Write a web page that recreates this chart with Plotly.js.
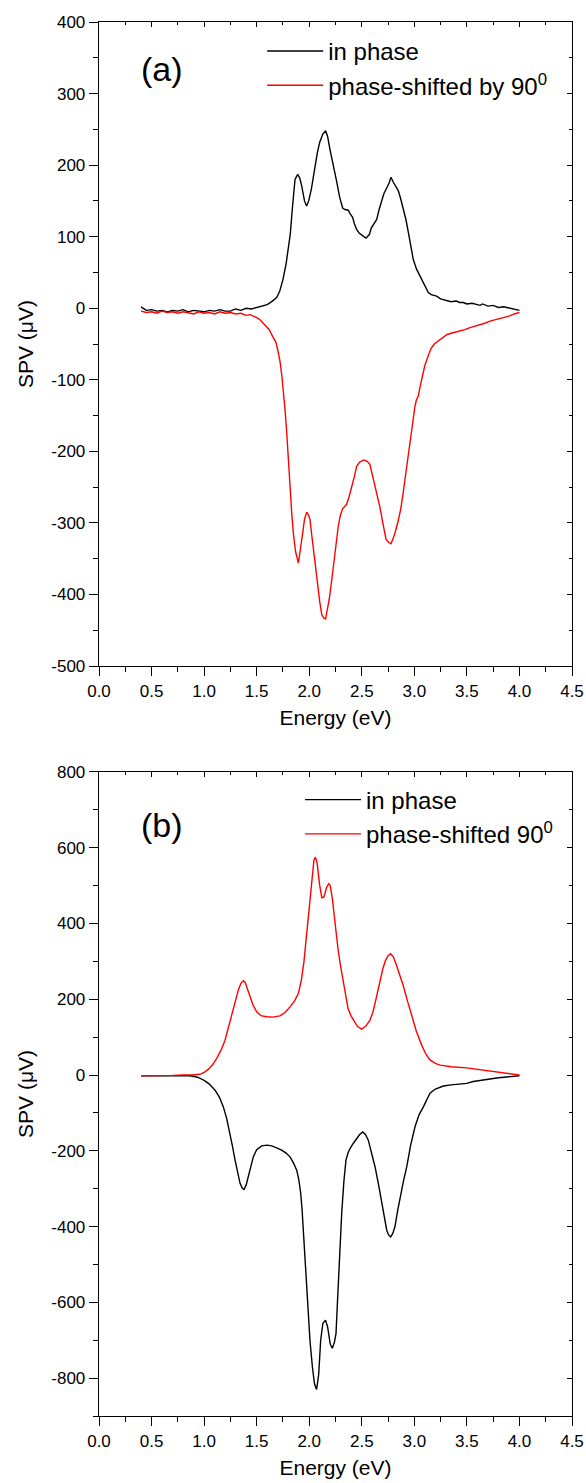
<!DOCTYPE html>
<html><head><meta charset="utf-8">
<script src="https://cdn.plot.ly/plotly-3.0.1.min.js"></script>
<style>html,body{margin:0;padding:0;background:#fff;}#chart{width:586px;height:1483px;}</style>
</head><body><div id="chart"></div>
<script>
// Panel (a)
const aInPhaseE = [0.40,0.45,0.50,0.55,0.60,0.65,0.70,0.75,0.80,0.85,0.90,0.95,1.00,1.05,1.10,1.15,1.20,1.25,1.30,1.35,1.40,1.45,1.50,1.55,1.60,1.65,1.69,1.72,1.75,1.78,1.80,1.82,1.84,1.865,1.89,1.91,1.93,1.955,1.975,1.995,2.02,2.05,2.077,2.10,2.128,2.156,2.175,2.197,2.23,2.26,2.29,2.318,2.34,2.371,2.39,2.413,2.43,2.451,2.475,2.498,2.52,2.54,2.556,2.572,2.59,2.61,2.625,2.642,2.665,2.689,2.71,2.737,2.76,2.778,2.79,2.80,2.825,2.848,2.87,2.895,2.92,2.943,2.965,2.99,3.02,3.054,3.07,3.085,3.11,3.133,3.16,3.19,3.212,3.25,3.28,3.308,3.35,3.40,3.43,3.466,3.50,3.55,3.60,3.625,3.65,3.70,3.75,3.80,3.85,3.90,3.95,4.00];
const aInPhaseV = [2,-3,-2,-4,-3,-5,-3,-4,-2,-5,-3,-4,-5,-3,-4,-2,-4,-4,-1,-3,0,-1,1,2,5,10,15,24,40,62,82,104,140,180,187,182,170,150,143,150,166,195,217,232,243,248,240,222,200,178,155,140,138,137,132,127,118,110,105,103,100,98,100,103,112,117,120,124,138,150,160,168,175,183,178,176,170,164,153,140,124,106,88,68,55,45,40,36,28,22,19,18,17,13,12,10,9,10,8,8,6,7,5,4,6,3,4,1,2,0,-2,-3];
const aShiftedE = [0.40,0.45,0.50,0.55,0.60,0.65,0.70,0.75,0.80,0.85,0.90,0.95,1.00,1.05,1.10,1.15,1.20,1.25,1.30,1.35,1.40,1.437,1.47,1.50,1.532,1.56,1.595,1.62,1.643,1.665,1.684,1.70,1.722,1.74,1.754,1.77,1.786,1.80,1.817,1.833,1.849,1.87,1.897,1.915,1.938,1.955,1.976,1.99,2.007,2.02,2.039,2.058,2.077,2.10,2.119,2.14,2.156,2.172,2.19,2.21,2.229,2.25,2.276,2.295,2.318,2.338,2.356,2.38,2.403,2.43,2.451,2.48,2.52,2.55,2.577,2.60,2.624,2.65,2.674,2.70,2.731,2.755,2.778,2.795,2.816,2.845,2.87,2.89,2.911,2.935,2.958,2.98,3.006,3.02,3.037,3.06,3.079,3.10,3.133,3.16,3.19,3.228,3.26,3.308,3.35,3.40,3.435,3.48,3.53,3.58,3.625,3.67,3.72,3.78,3.84,3.90,3.95,4.00];
const aShiftedV = [-4,-6,-5,-7,-4,-6,-5,-7,-5,-6,-8,-5,-7,-6,-8,-5,-7,-6,-8,-7,-10,-9,-11,-13,-16,-20,-25,-30,-37,-42,-48,-58,-74,-95,-114,-142,-174,-210,-249,-285,-314,-340,-356,-340,-314,-295,-285,-288,-295,-312,-337,-360,-384,-410,-428,-433,-434,-422,-407,-385,-360,-332,-305,-290,-280,-277,-274,-263,-251,-235,-221,-215,-212,-214,-218,-232,-249,-265,-279,-300,-323,-327,-329,-323,-314,-298,-281,-262,-239,-215,-193,-165,-137,-128,-123,-106,-93,-80,-66,-56,-50,-46,-42,-37,-35,-33,-32,-30,-27,-25,-23,-21,-18,-16,-13,-11,-8,-6];
// Panel (b)
const bInPhaseE = [0.40,0.50,0.60,0.70,0.80,0.866,0.93,0.993,1.05,1.104,1.145,1.183,1.215,1.246,1.27,1.294,1.318,1.342,1.362,1.38,1.40,1.42,1.445,1.468,1.50,1.548,1.60,1.643,1.69,1.738,1.78,1.817,1.85,1.881,1.90,1.919,1.932,1.944,1.96,1.976,1.99,2.007,2.03,2.05,2.07,2.09,2.109,2.13,2.155,2.175,2.20,2.22,2.24,2.255,2.265,2.277,2.29,2.309,2.33,2.35,2.37,2.388,2.42,2.452,2.48,2.509,2.535,2.562,2.595,2.626,2.66,2.69,2.715,2.737,2.755,2.775,2.795,2.816,2.84,2.864,2.895,2.928,2.965,3.007,3.045,3.086,3.12,3.149,3.20,3.276,3.35,3.42,3.498,3.56,3.64,3.72,3.80,3.88,3.95,4.00];
const bInPhaseV = [-2,-2,-1,-2,-1,-2,-5,-13,-24,-40,-58,-84,-115,-154,-188,-224,-258,-286,-298,-302,-290,-268,-240,-216,-197,-187,-185,-187,-192,-198,-206,-216,-232,-251,-275,-312,-355,-409,-470,-541,-620,-700,-770,-815,-830,-790,-700,-655,-647,-665,-710,-721,-705,-682,-620,-541,-450,-365,-280,-224,-205,-194,-180,-167,-157,-150,-157,-172,-205,-242,-290,-339,-380,-409,-422,-427,-418,-400,-360,-321,-282,-242,-185,-136,-105,-84,-62,-48,-37,-29,-26,-24,-22,-17,-13,-9,-7,-5,-3,-2];
const bShiftedE = [0.40,0.50,0.60,0.70,0.80,0.88,0.961,1.00,1.04,1.08,1.12,1.16,1.199,1.23,1.262,1.295,1.325,1.35,1.373,1.39,1.41,1.437,1.465,1.50,1.54,1.595,1.65,1.722,1.77,1.817,1.86,1.897,1.925,1.95,1.975,2.00,2.025,2.045,2.058,2.075,2.10,2.12,2.14,2.165,2.185,2.20,2.22,2.25,2.275,2.30,2.325,2.345,2.37,2.40,2.43,2.46,2.50,2.54,2.578,2.605,2.626,2.65,2.674,2.70,2.725,2.75,2.775,2.80,2.83,2.86,2.896,2.935,2.975,3.02,3.07,3.11,3.149,3.20,3.245,3.35,3.498,3.60,3.72,3.85,3.95,4.00];
const bShiftedV = [-2,-2,-1,-1,0,0,2,7,15,27,44,65,92,125,163,198,224,242,249,245,228,207,185,167,157,154,153,156,165,180,195,216,250,300,370,450,530,568,575,560,500,468,470,495,505,500,465,390,330,285,245,205,175,155,140,128,121,130,145,165,189,220,251,280,302,315,320,312,290,265,235,195,154,115,79,55,40,31,26,22,19,15,11,6,2,0];

const xTickVals = [0,0.5,1,1.5,2,2.5,3,3.5,4,4.5];
const xTickText = ["0.0","0.5","1.0","1.5","2.0","2.5","3.0","3.5","4.0","4.5"];
const yTickValsA = [-500,-400,-300,-200,-100,0,100,200,300,400];
const yTickTextA = ["-500","-400","-300","-200","-100","0","100","200","300","400"];
const yTickValsB = [-800,-600,-400,-200,0,200,400,600,800];
const yTickTextB = ["-800","-600","-400","-200","0","200","400","600","800"];
const legendInPhaseA = "in phase";
const legendShiftedA = "phase-shifted by 90<sup>0</sup>";
const legendInPhaseB = "in phase";
const legendShiftedB = "phase-shifted 90<sup>0</sup>";

const FONT = "Liberation Sans, Arial, sans-serif";
const lineW = 1.4;
const traces = [
  {x:aInPhaseE, y:aInPhaseV, xaxis:'x', yaxis:'y', mode:'lines', name:legendInPhaseA, line:{color:'#000', width:lineW}, legend:'legend'},
  {x:aShiftedE, y:aShiftedV, xaxis:'x', yaxis:'y', mode:'lines', name:legendShiftedA, line:{color:'#ff0000', width:lineW}, legend:'legend'},
  {x:bInPhaseE, y:bInPhaseV, xaxis:'x2', yaxis:'y2', mode:'lines', name:legendInPhaseB, line:{color:'#000', width:lineW}, legend:'legend2'},
  {x:bShiftedE, y:bShiftedV, xaxis:'x2', yaxis:'y2', mode:'lines', name:legendShiftedB, line:{color:'#ff0000', width:lineW}, legend:'legend2'},
  // empty traces so the mirrored (top/right) frame axes get drawn
  {x:[], y:[], xaxis:'x3', yaxis:'y3', mode:'lines', showlegend:false, hoverinfo:'skip'},
  {x:[], y:[], xaxis:'x4', yaxis:'y4', mode:'lines', showlegend:false, hoverinfo:'skip'}
];

function xAx(anchor) {
  return {
    range:[0,4.5], anchor:anchor, tickmode:'array', tickvals:xTickVals, ticktext:xTickText,
    ticks:'outside', ticklen:9, tickwidth:1, tickcolor:'#000',
    minor:{dtick:0.25, tick0:0, ticks:'outside', ticklen:5, tickwidth:1, tickcolor:'#000'},
    showline:true, linecolor:'#000', linewidth:1.3, showgrid:false, zeroline:false,
    tickfont:{family:FONT, size:17, color:'#000'},
    title:{text:'Energy (eV)', font:{family:FONT, size:21, color:'#000'}, standoff:10}
  };
}
function yAx(anchor, domain, range, tv, tt, minorDtick) {
  return {
    range:range, anchor:anchor, domain:domain, tickmode:'array', tickvals:tv, ticktext:tt,
    ticks:'outside', ticklen:9, tickwidth:1, tickcolor:'#000',
    minor:{dtick:minorDtick, tick0:0, ticks:'outside', ticklen:5, tickwidth:1, tickcolor:'#000'},
    showline:true, linecolor:'#000', linewidth:1.3, showgrid:false, zeroline:false,
    tickfont:{family:FONT, size:17, color:'#000'},
    title:{text:'SPV (\u03bcV)', font:{family:FONT, size:21, color:'#000'}, standoff:12}
  };
}
function xMirror(over, anchor) {
  return {overlaying:over, anchor:anchor, side:'top', range:[0,4.5], tickmode:'array', tickvals:xTickVals,
    showticklabels:false, ticks:'inside', ticklen:5, tickwidth:1, tickcolor:'#000',
    minor:{dtick:0.25, tick0:0, ticks:'inside', ticklen:3, tickwidth:1, tickcolor:'#000'},
    showline:true, linecolor:'#000', linewidth:1.3, showgrid:false, zeroline:false};
}
function yMirror(over, anchor, range, tv, minorDtick) {
  return {overlaying:over, anchor:anchor, side:'right', range:range, tickmode:'array', tickvals:tv,
    showticklabels:false, ticks:'inside', ticklen:5, tickwidth:1, tickcolor:'#000',
    minor:{dtick:minorDtick, tick0:0, ticks:'inside', ticklen:3, tickwidth:1, tickcolor:'#000'},
    showline:true, linecolor:'#000', linewidth:1.3, showgrid:false, zeroline:false};
}

const layout = {
  width:586, height:1483,
  margin:{l:99, r:14, t:22, b:67},
  paper_bgcolor:'#fff', plot_bgcolor:'rgba(0,0,0,0)',
  font:{family:FONT, color:'#000'},
  showlegend:true,
  xaxis: xAx('y'),
  yaxis: yAx('x', [0.538,1], [-500,400], yTickValsA, yTickTextA, 50),
  xaxis2: xAx('y2'),
  yaxis2: yAx('x2', [0,0.462], [-900,800], yTickValsB, yTickTextB, 100),
  xaxis3: xMirror('x','y3'),
  yaxis3: Object.assign(yMirror('y','x3',[-500,400],yTickValsA,50), {domain:[0.538,1]}),
  xaxis4: xMirror('x2','y4'),
  yaxis4: Object.assign(yMirror('y2','x4',[-900,800],yTickValsB,100), {domain:[0,0.462]}),
  legend:{x:0.345, y:0.995, xanchor:'left', yanchor:'top', bgcolor:'rgba(0,0,0,0)', font:{family:FONT, size:24, color:'#000'}, itemwidth:56, tracegroupgap:0},
  legend2:{x:0.425, y:0.458, xanchor:'left', yanchor:'top', bgcolor:'rgba(0,0,0,0)', font:{family:FONT, size:24, color:'#000'}, itemwidth:56, tracegroupgap:0},
  annotations:[
    {text:'(a)', xref:'x', yref:'y', x:0.6, y:334, showarrow:false, font:{family:FONT, size:34, color:'#000'}},
    {text:'(b)', xref:'x2', yref:'y2', x:0.6, y:660, showarrow:false, font:{family:FONT, size:34, color:'#000'}}
  ]
};
Plotly.newPlot('chart', traces, layout, {staticPlot:true, displayModeBar:false});
</script></body></html>
